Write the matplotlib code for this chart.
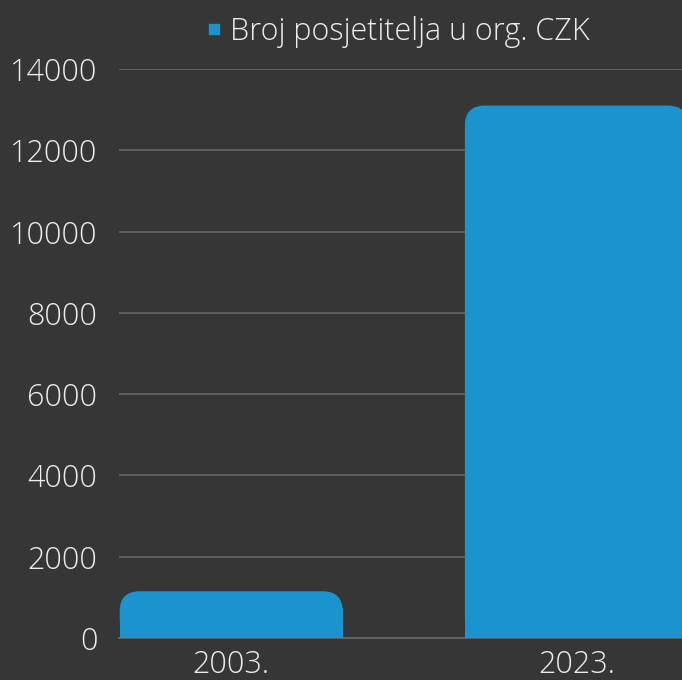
import numpy as np
import matplotlib.pyplot as plt
from matplotlib.patches import FancyBboxPatch, Rectangle
from matplotlib.lines import Line2D

categories = ["2003.", "2023."]
visitors = [1150, 13100]
series_name = "Broj posjetitelja u org. CZK"
yticks = [0, 2000, 4000, 6000, 8000, 10000, 12000, 14000]

BG = "#363636"
BAR = "#1b93ce"
TXT = "#ececec"
GRID = "#676767"

plt.rcParams['font.family'] = ['Open Sans', 'DejaVu Sans']

fig = plt.figure(figsize=(6.82, 6.80), dpi=100, facecolor=BG)
ax = fig.add_axes([119 / 682, 1 - 638 / 680, 1 - 119 / 682, 569 / 680])
ax.set_facecolor(BG)

x = np.arange(len(categories))
bars = ax.bar(x, visitors, width=0.646, color=BAR, visible=False)
ax.set_xlim(-0.325, 1.306)
ax.set_ylim(0, 14000)

# rounded top corners, square bottom
r_x = 0.058
aspect = (14000 / 569) * 345
for b in bars:
    bx, bw, bh = b.get_x(), b.get_width(), b.get_height()
    ax.add_patch(FancyBboxPatch((bx, 0), bw, bh,
                                boxstyle=f"round,pad=0,rounding_size={r_x}",
                                mutation_aspect=aspect, fc=BAR, ec="none", zorder=3))
    ax.add_patch(Rectangle((bx, 0), bw, min(bh, r_x * aspect * 1.5),
                           fc=BAR, ec="none", zorder=3))

ax.set_yticks(yticks)
ax.set_yticklabels([str(v) for v in yticks])
ax.set_xticks(x)
ax.set_xticklabels(categories)
ax.grid(axis='y', color=GRID, linewidth=1.2, zorder=0)
ax.set_axisbelow(True)
ax.tick_params(length=0, colors=TXT, labelsize=22)
ax.tick_params(axis='y', pad=15.5)
ax.tick_params(axis='x', pad=8)
for lab in ax.get_xticklabels() + ax.get_yticklabels():
    lab.set_fontweight('light')
for s in ["top", "right", "left"]:
    ax.spines[s].set_visible(False)
ax.spines["bottom"].set_color(GRID)
ax.spines["bottom"].set_linewidth(1.2)

handle = Line2D([], [], marker='s', color=BAR, linestyle='none', markersize=6.5)
leg = fig.legend([handle], [series_name], loc='center left',
                 bbox_to_anchor=(206 / 682, 1 - 32 / 680), frameon=False,
                 handlelength=0.5, handletextpad=0.3, borderaxespad=0,
                 borderpad=0, prop={'size': 22, 'weight': 'light'})
for t in leg.get_texts():
    t.set_color(TXT)

fig.savefig("out.png", dpi=100, facecolor=BG)
